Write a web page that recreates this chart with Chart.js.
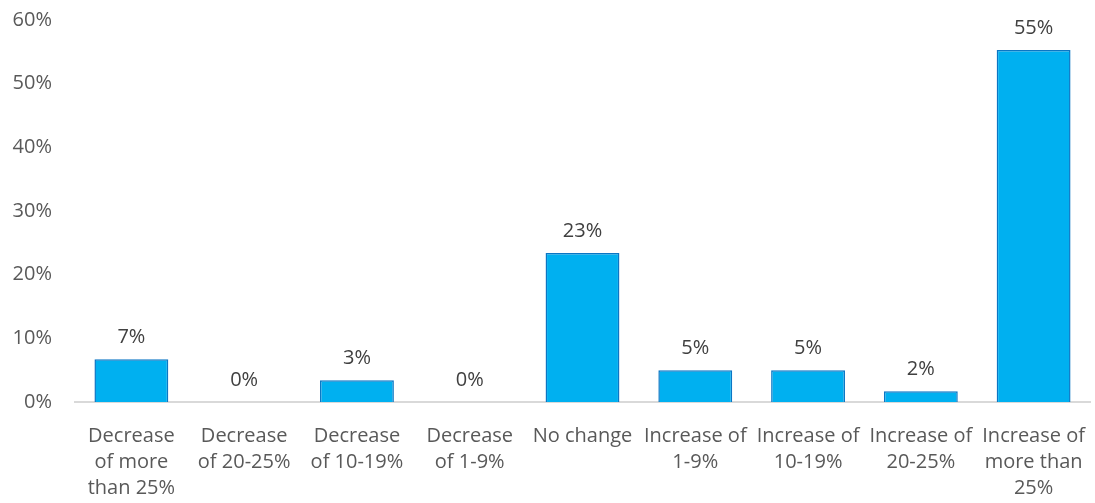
<!DOCTYPE html>
<html>
<head>
<meta charset="utf-8">
<script src="https://cdn.jsdelivr.net/npm/chart.js@4"></script>
<style>
  html, body { margin: 0; padding: 0; background: #fff; }
  #wrap { width: 1095px; height: 503px; }
</style>
</head>
<body>
<div id="wrap"><canvas id="chartChange"></canvas></div>
<script>
const categories = [
  ['Decrease', 'of more', 'than 25%'],
  ['Decrease', 'of 20-25%'],
  ['Decrease', 'of 10-19%'],
  ['Decrease', 'of 1-9%'],
  ['No change'],
  ['Increase of', '1-9%'],
  ['Increase of', '10-19%'],
  ['Increase of', '20-25%'],
  ['Increase of', 'more than', '25%']
];
const shares = [6.7, 0, 3.4, 0, 23.4, 5.0, 5.0, 1.7, 55.3];
const shareLabels = ['7%', '0%', '3%', '0%', '23%', '5%', '5%', '2%', '55%'];

const fontFamily = '"Open Sans", "Noto Sans", sans-serif';
const textColor = '#595959';

// value labels above the bars
const barLabels = {
  id: 'barLabels',
  afterDatasetsDraw(chart) {
    const ctx = chart.ctx;
    const meta = chart.getDatasetMeta(0);
    ctx.save();
    ctx.font = '20px ' + fontFamily;
    ctx.fillStyle = '#404040';
    ctx.textAlign = 'center';
    ctx.textBaseline = 'middle';
    meta.data.forEach((bar, i) => {
      ctx.fillText(shareLabels[i], bar.x, bar.y - 22);
    });
    ctx.restore();
  }
};

const ctxChange = document.getElementById('chartChange').getContext('2d');
new Chart(ctxChange, {
  type: 'bar',
  data: {
    labels: categories,
    datasets: [{
      data: shares,
      backgroundColor: '#00B0F0',
      borderColor: '#0B76C4',
      borderWidth: 1.5,
      borderSkipped: 'bottom',
      categoryPercentage: 1,
      barPercentage: 0.655
    }]
  },
  options: {
    responsive: true,
    maintainAspectRatio: false,
    animation: false,
    layout: { padding: { top: 20, right: 5, left: 0, bottom: 0 } },
    plugins: {
      legend: { display: false },
      tooltip: { enabled: false }
    },
    scales: {
      x: {
        grid: { display: false, drawTicks: false },
        border: { color: '#D9D9D9', width: 2 },
        ticks: {
          color: textColor,
          font: { family: fontFamily, size: 20, lineHeight: 1.3 },
          maxRotation: 0,
          autoSkip: false,
          padding: 21
        },
        afterFit(axis) {
          axis.height = 101;
          axis.paddingLeft = 0;
          axis.paddingRight = 0;
        }
      },
      y: {
        min: 0,
        max: 60,
        grid: { display: false, drawTicks: false },
        border: { display: false },
        ticks: {
          stepSize: 10,
          color: textColor,
          font: { family: fontFamily, size: 20 },
          padding: 23,
          callback: v => v + '%'
        },
        afterFit(axis) {
          axis.width = 75;
          axis.paddingTop = 0;
          axis.paddingBottom = 0;
        }
      }
    }
  },
  plugins: [barLabels]
});
</script>
</body>
</html>
